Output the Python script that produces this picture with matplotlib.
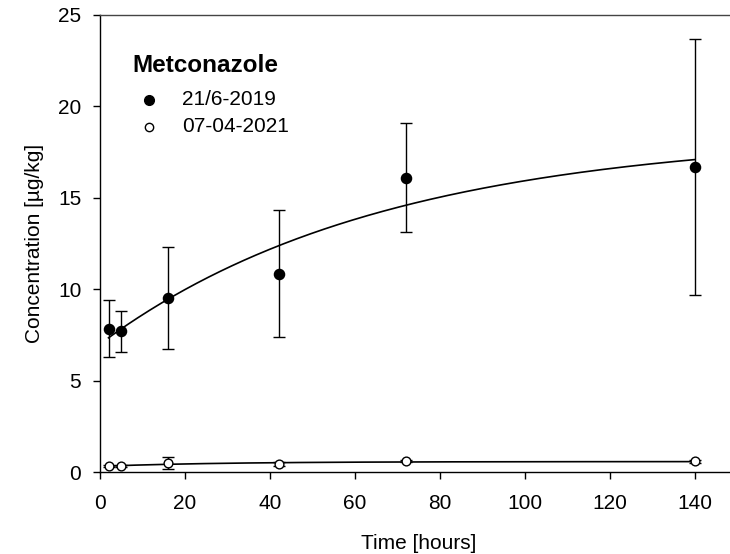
import numpy as np
import matplotlib
matplotlib.use("Agg")
import matplotlib.pyplot as plt

plt.rcParams['font.family'] = ['Liberation Sans', 'DejaVu Sans']

# Data
time_h = [2, 5, 16, 42, 72, 140]
conc_2019 = [7.84, 7.69, 9.53, 10.85, 16.1, 16.7]
err_2019 = [1.56, 1.11, 2.78, 3.47, 2.98, 7.0]
conc_2021 = [0.35, 0.35, 0.50, 0.45, 0.58, 0.58]
err_2021 = [0.05, 0.05, 0.33, 0.10, 0.05, 0.10]

# fitted curve parameters: y = y0 + a*(1 - exp(-b*t))
fit_2019 = dict(y0=7.0, a=11.5, b=0.015)
fit_2021 = dict(y0=0.31, a=0.26, b=0.035)

label_2019 = "21/6-2019"
label_2021 = "07-04-2021"
legend_title = "Metconazole"

W, H = 730, 554
fig = plt.figure(figsize=(W / 100, H / 100), dpi=100)
ax_left, ax_bottom_px, ax_w, ax_top_px = 100, 472, 637.5, 15
ax = fig.add_axes([ax_left / W, (H - ax_bottom_px) / H, ax_w / W, (ax_bottom_px - ax_top_px) / H])

t = np.linspace(min(time_h), max(time_h), 300)
for p in (fit_2019, fit_2021):
    ax.plot(t, p['y0'] + p['a'] * (1 - np.exp(-p['b'] * t)), color='black', lw=1.2, zorder=2)

ax.errorbar(time_h, conc_2019, yerr=err_2019, fmt='o', color='black', mfc='black', mec='black',
            ms=7.3, ecolor='black', elinewidth=1.0, capsize=4.3, capthick=1.0, zorder=3)
ax.errorbar(time_h, conc_2021, yerr=err_2021, fmt='o', color='black', mfc='white', mec='black',
            ms=6.3, mew=1.0, ecolor='black', elinewidth=1.0, capsize=4.3, capthick=1.0, zorder=3)

ax.set_xlim(0, 150)
ax.set_ylim(0, 25)
ax.set_xticks(range(0, 141, 20))
ax.set_yticks(range(0, 26, 5))
ax.tick_params(direction='out', length=5, width=1.0, labelsize=15)
ax.tick_params(axis='x', pad=11)
ax.tick_params(axis='y', pad=8.5)
for s in ax.spines.values():
    s.set_linewidth(1.0)
ax.spines['top'].set_color('#444444')

ax.set_xlabel('Time [hours]', fontsize=15, labelpad=15)
ax.set_ylabel('Concentration [µg/kg]', fontsize=15, labelpad=10)

# legend drawn manually (pixel-matched positions, converted to axes fraction)
def axfrac(px, py):
    return ((px - ax_left) / ax_w, (ax_bottom_px - py) / (ax_bottom_px - ax_top_px))

ax.text(*axfrac(132, 71.5), legend_title, transform=ax.transAxes, fontsize=17.5,
        fontweight='bold', ha='left', va='baseline')
for (my, by, lab, fc, ms) in [(100, 105, label_2019, 'black', 7.0),
                             (127, 132.5, label_2021, 'white', 6.0)]:
    ax.plot(*axfrac(149, my), marker='o', ms=ms, mfc=fc, mec='black', mew=1.0,
            transform=ax.transAxes, clip_on=False, ls='none')
    ax.text(*axfrac(182, by), lab, transform=ax.transAxes, fontsize=15, ha='left', va='baseline')

fig.savefig('out.png', dpi=100)
